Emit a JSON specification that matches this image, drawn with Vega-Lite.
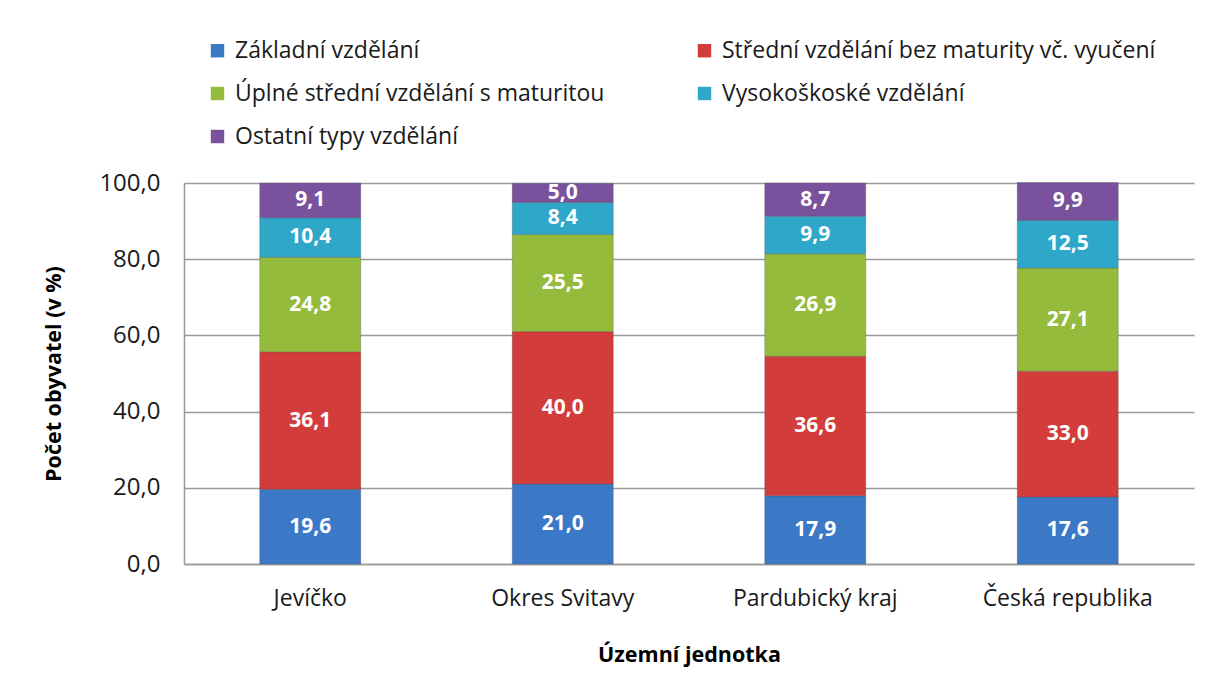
{
  "$schema": "https://vega.github.io/schema/vega-lite/v6.json",
  "width": 1010,
  "height": 381,
  "padding": {"left": 184, "top": 183, "right": 14, "bottom": 126},
  "autosize": {"type": "none"},
  "background": "white",
  "config": {
    "font": "Open Sans",
    "locale": {"number": {"decimal": ",", "thousands": " ", "grouping": [3], "currency": ["", " Kč"]}},
    "view": {"stroke": null},
    "axis": {"labelFont": "Open Sans", "titleFont": "Open Sans"}
  },
  "data": {
    "values": [
      {"unit": "Jevíčko", "typ": "Základní vzdělání", "ord": 1, "value": 19.6},
      {"unit": "Jevíčko", "typ": "Střední vzdělání bez maturity vč. vyučení", "ord": 2, "value": 36.1},
      {"unit": "Jevíčko", "typ": "Úplné střední vzdělání s maturitou", "ord": 3, "value": 24.8},
      {"unit": "Jevíčko", "typ": "Vysokoškoské vzdělání", "ord": 4, "value": 10.4},
      {"unit": "Jevíčko", "typ": "Ostatní typy vzdělání", "ord": 5, "value": 9.1},
      {"unit": "Okres Svitavy", "typ": "Základní vzdělání", "ord": 1, "value": 21.0},
      {"unit": "Okres Svitavy", "typ": "Střední vzdělání bez maturity vč. vyučení", "ord": 2, "value": 40.0},
      {"unit": "Okres Svitavy", "typ": "Úplné střední vzdělání s maturitou", "ord": 3, "value": 25.5},
      {"unit": "Okres Svitavy", "typ": "Vysokoškoské vzdělání", "ord": 4, "value": 8.4},
      {"unit": "Okres Svitavy", "typ": "Ostatní typy vzdělání", "ord": 5, "value": 5.0},
      {"unit": "Pardubický kraj", "typ": "Základní vzdělání", "ord": 1, "value": 17.9},
      {"unit": "Pardubický kraj", "typ": "Střední vzdělání bez maturity vč. vyučení", "ord": 2, "value": 36.6},
      {"unit": "Pardubický kraj", "typ": "Úplné střední vzdělání s maturitou", "ord": 3, "value": 26.9},
      {"unit": "Pardubický kraj", "typ": "Vysokoškoské vzdělání", "ord": 4, "value": 9.9},
      {"unit": "Pardubický kraj", "typ": "Ostatní typy vzdělání", "ord": 5, "value": 8.7},
      {"unit": "Česká republika", "typ": "Základní vzdělání", "ord": 1, "value": 17.6},
      {"unit": "Česká republika", "typ": "Střední vzdělání bez maturity vč. vyučení", "ord": 2, "value": 33.0},
      {"unit": "Česká republika", "typ": "Úplné střední vzdělání s maturitou", "ord": 3, "value": 27.1},
      {"unit": "Česká republika", "typ": "Vysokoškoské vzdělání", "ord": 4, "value": 12.5},
      {"unit": "Česká republika", "typ": "Ostatní typy vzdělání", "ord": 5, "value": 9.9}
    ]
  },
  "transform": [
    {"stack": "value", "groupby": ["unit"], "sort": [{"field": "ord", "order": "ascending"}], "as": ["v0", "v1"]},
    {"calculate": "(datum.v0 + datum.v1) / 2", "as": "mid"}
  ],
  "encoding": {
    "x": {
      "field": "unit", "type": "nominal",
      "sort": ["Jevíčko", "Okres Svitavy", "Pardubický kraj", "Česká republika"],
      "scale": {"paddingInner": 0.6, "paddingOuter": 0.3},
      "axis": {
        "title": "Územní jednotka", "labelAngle": 0, "labelFontSize": 23, "labelColor": "#1a1a1a",
        "labelPadding": 23, "ticks": false, "domainColor": "#999999", "domainWidth": 1.5,
        "titleFontSize": 21.5, "titleFontWeight": "bold", "titleColor": "#000000", "titlePadding": 34
      }
    }
  },
  "layer": [
    {
      "mark": {"type": "bar", "stroke": "#4a4a4a", "strokeWidth": 0.6, "strokeOpacity": 0.5},
      "encoding": {
        "y": {
          "field": "v1", "type": "quantitative",
          "scale": {"domain": [0, 100]},
          "axis": {
            "title": "Počet obyvatel (v %)", "format": ".1f", "values": [0, 20, 40, 60, 80, 100],
            "labelFontSize": 24, "labelColor": "#1a1a1a", "labelPadding": 24, "ticks": false,
            "domainColor": "#999999", "domainWidth": 1.5,
            "gridColor": "#9a9a9a", "gridWidth": 1.3,
            "titleFontSize": 21.5, "titleFontWeight": "bold", "titleColor": "#000000", "titlePadding": 33
          }
        },
        "y2": {"field": "v0"},
        "color": {
          "field": "typ", "type": "nominal",
          "sort": ["Základní vzdělání", "Střední vzdělání bez maturity vč. vyučení", "Úplné střední vzdělání s maturitou", "Vysokoškoské vzdělání", "Ostatní typy vzdělání"],
          "scale": {
            "domain": ["Základní vzdělání", "Střední vzdělání bez maturity vč. vyučení", "Úplné střední vzdělání s maturitou", "Vysokoškoské vzdělání", "Ostatní typy vzdělání"],
            "range": ["#3b78c6", "#d23c3a", "#95bb3c", "#2ea7c9", "#7a519c"]
          },
          "legend": {
            "title": null, "orient": "none", "legendX": 22, "legendY": -144,
            "direction": "horizontal", "columns": 2,
            "symbolType": "square", "symbolSize": 180, "symbolStrokeWidth": 0,
            "labelFontSize": 23, "labelColor": "#1a1a1a", "labelLimit": 700,
            "rowPadding": 19, "columnPadding": 88, "labelOffset": 6
          }
        }
      }
    },
    {
      "mark": {"type": "text", "color": "white", "fontWeight": "bold", "fontSize": 21, "baseline": "middle"},
      "encoding": {
        "y": {"field": "mid", "type": "quantitative"},
        "text": {"field": "value", "type": "quantitative", "format": ".1f"}
      }
    }
  ]
}
